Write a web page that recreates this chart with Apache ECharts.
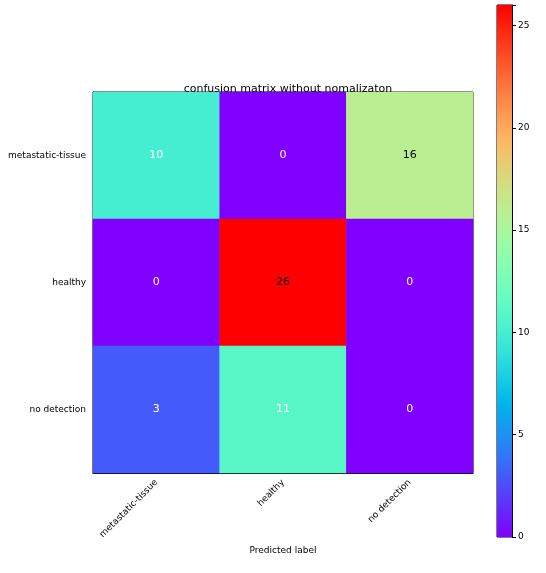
<!DOCTYPE html>
<html>
<head>
<meta charset="utf-8">
<script src="https://cdn.jsdelivr.net/npm/echarts@6/dist/echarts.min.js"></script>
<style>html,body{margin:0;padding:0;background:#fff}#main{width:546px;height:573px}</style>
</head>
<body>
<div id="main"></div>
<script>
var predicted = ['metastatic-tissue', 'healthy', 'no detection'];
var actual = ['metastatic-tissue', 'healthy', 'no detection'];
// rows = true label, columns = predicted label
var counts = [
  [10, 0, 16],
  [0, 26, 0],
  [3, 11, 0]
];
var vmax = 26;
var colorTicks = [0, 5, 10, 15, 20, 25];

// matplotlib "rainbow" colormap
function rainbow(t) {
  var r = Math.min(1, Math.abs(2 * t - 0.5)), g = Math.sin(Math.PI * t), b = Math.cos(Math.PI * t / 2);
  return 'rgb(' + Math.round(r * 255) + ',' + Math.round(g * 255) + ',' + Math.round(b * 255) + ')';
}
var cmap = [], stops = [];
for (var i = 0; i <= 20; i++) {
  cmap.push(rainbow(i / 20));
  stops.push({ offset: i / 20, color: rainbow(i / 20) });
}

var cells = [];
counts.forEach(function (row, r) {
  row.forEach(function (v, c) {
    cells.push({ value: [c, r, v], label: { color: v > vmax / 2 ? '#000' : '#fff' } });
  });
});

var font = 'DejaVu Sans';
var chart = echarts.init(document.getElementById('main'));
chart.setOption({
  animation: false,
  textStyle: { fontFamily: font },
  title: {
    text: 'confusion matrix without nomalizaton', left: 283, top: 79, textAlign: 'center',
    textStyle: { fontFamily: font, fontSize: 11, fontWeight: 'normal', color: '#000' }
  },
  grid: [
    { left: 93, top: 92, width: 380, height: 381, show: true, borderColor: '#000', borderWidth: 1, backgroundColor: 'transparent', outerBoundsMode: 'none', containLabel: false },
    { left: 497, top: 5, width: 15, height: 532, show: true, borderColor: '#000', borderWidth: 1, backgroundColor: 'transparent', outerBoundsMode: 'none', containLabel: false }
  ],
  xAxis: [
    {
      type: 'category', data: predicted, gridIndex: 0, position: 'bottom',
      name: 'Predicted label', nameLocation: 'middle', nameGap: 66,
      nameTextStyle: { fontFamily: font, fontSize: 9, color: '#000' },
      axisLine: { lineStyle: { color: '#000' } },
      axisTick: { alignWithLabel: true, length: 4, lineStyle: { color: '#000' } },
      axisLabel: { rotate: 45, fontSize: 9, color: '#000', margin: 8 },
      splitLine: { show: false }
    },
    { type: 'category', data: [''], gridIndex: 1, show: false }
  ],
  yAxis: [
    {
      type: 'category', data: actual, gridIndex: 0, inverse: true,
      name: 'True label', nameLocation: 'middle', nameGap: 81,
      nameTextStyle: { fontFamily: font, fontSize: 9, color: '#000' },
      axisLine: { lineStyle: { color: '#000' } },
      axisTick: { alignWithLabel: true, length: 4, lineStyle: { color: '#000' } },
      axisLabel: { fontSize: 9, color: '#000', margin: 7 },
      splitLine: { show: false }
    },
    {
      type: 'value', gridIndex: 1, min: 0, max: vmax, interval: 5, position: 'right',
      axisLine: { show: true, lineStyle: { color: '#000' } },
      axisTick: { show: true, length: 4, lineStyle: { color: '#000' } },
      axisLabel: {
        fontSize: 9, color: '#000', margin: 6,
        formatter: function (v) { return colorTicks.indexOf(v) >= 0 ? v : ''; }
      },
      splitLine: { show: false }
    }
  ],
  visualMap: {
    show: false, min: 0, max: vmax, dimension: 2, seriesIndex: 0, inRange: { color: cmap }
  },
  series: [
    {
      type: 'heatmap', xAxisIndex: 0, yAxisIndex: 0, data: cells,
      label: { show: true, fontSize: 11, fontFamily: font },
      itemStyle: { borderWidth: 0 }
    },
    {
      type: 'bar', xAxisIndex: 1, yAxisIndex: 1, data: [vmax], barWidth: '100%',
      itemStyle: { color: { type: 'linear', x: 0, y: 1, x2: 0, y2: 0, colorStops: stops } }
    }
  ]
});
</script>
</body>
</html>
